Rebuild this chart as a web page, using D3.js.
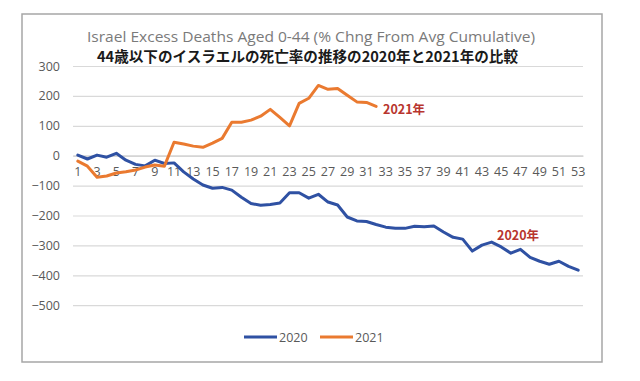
<!DOCTYPE html>
<html><head><meta charset="utf-8">
<script src="https://cdn.jsdelivr.net/npm/d3@7"></script>
<style>body{margin:0;background:#fff}svg{display:block}</style>
</head><body>
<script>
const categories = d3.range(1, 54);
const xTickLabels = d3.range(1, 54, 2);
const yTicks = [300, 200, 100, 0, -100, -200, -300, -400, -500];
const series2020 = [2,-11,2,-5,8,-15,-29,-34,-15,-26,-24,-54,-78,-98,-109,-106,-115,-139,-160,-166,-163,-158,-124,-124,-142,-129,-155,-165,-205,-218,-220,-230,-239,-243,-243,-236,-238,-235,-255,-273,-279,-319,-299,-289,-305,-326,-313,-340,-353,-363,-353,-370,-383];
const series2021 = [-18,-35,-72,-68,-58,-54,-48,-38,-31,-35,45,39,32,28,42,58,112,112,119,132,155,128,100,175,192,235,222,225,202,180,178,165];
const seriesNames = ["2020", "2021"];
const colors = ["#2f51a3", "#ea7a30"];
const title1 = "Israel Excess Deaths Aged 0-44 (% Chng From Avg Cumulative)";
const title2 = "44歳以下のイスラエルの死亡率の推移の2020年と2021年の比較";
const annot = ["2020年", "2021年"];

(function () {
const W = 640, H = 381;
const svg = d3.select("body").append("svg").attr("width", W).attr("height", H);
svg.append("rect").attr("width", W).attr("height", H).attr("fill", "#fff");
svg.append("rect").attr("x", 22).attr("y", 14).attr("width", 580).attr("height", 348)
  .attr("fill", "#fff").attr("stroke", "#a6a6a6").attr("stroke-width", 1.5);

const pL = 73, pR = 583, pT = 66, pB = 305.2;
const x = d3.scaleBand().domain(categories).range([pL, pR]).padding(0);
const xc = d => x(d) + x.bandwidth() / 2;
const y = d3.scaleLinear().domain([-500, 300]).range([pB, pT]);

const font = "'Open Sans', 'Noto Sans', sans-serif";

const grid = svg.append("g").attr("transform", `translate(${pL},0)`)
  .call(d3.axisLeft(y).tickValues(yTicks).tickSize(-(pR - pL)).tickFormat(""));
grid.select(".domain").remove();
grid.selectAll("line").attr("stroke", "#d9d9d9").attr("stroke-width", 1.2);

const ya = svg.append("g").attr("transform", `translate(${pL},0)`)
  .call(d3.axisLeft(y).tickValues(yTicks).tickSize(0).tickPadding(13).tickFormat(d3.format("d")));
ya.select(".domain").remove();
ya.selectAll("text").attr("fill", "#595959").style("font-family", font).style("font-size", "12.5px");

const xa = svg.append("g").attr("transform", `translate(0,${y(0)})`)
  .call(d3.axisBottom(x).tickValues(xTickLabels).tickSize(0).tickPadding(11));
xa.select(".domain").attr("stroke", "#d0d0d0").attr("stroke-width", 1.2);
xa.selectAll("text").attr("fill", "#595959").style("font-family", font).style("font-size", "12.5px");

const line = d3.line().x((d, i) => xc(categories[i])).y(d => y(d));
[series2020, series2021].forEach((s, k) => {
  svg.append("path").datum(s).attr("d", line).attr("fill", "none")
    .attr("stroke", colors[k]).attr("stroke-width", 3).attr("stroke-linejoin", "round").attr("stroke-linecap", "round");
});

const cjk = "'Noto Sans CJK JP', sans-serif";
svg.append("text").attr("x", 497).attr("y", 239.5).text(annot[0])
  .attr("fill", "#b8352e").style("font-family", cjk).style("font-weight", "bold").style("font-size", "12.5px");
svg.append("text").attr("x", 383).attr("y", 113.5).text(annot[1])
  .attr("fill", "#b8352e").style("font-family", cjk).style("font-weight", "bold").style("font-size", "12.5px");

svg.append("text").attr("x", 87).attr("y", 42).text(title1)
  .attr("fill", "#7a7a7a").style("font-family", font).style("font-size", "14px")
  .attr("textLength", 448).attr("lengthAdjust", "spacingAndGlyphs");
svg.append("text").attr("x", 97).attr("y", 61.5).text(title2)
  .attr("fill", "#1a1a1a").style("font-family", cjk).style("font-weight", "bold").style("font-size", "14.5px")
  .attr("textLength", 421).attr("lengthAdjust", "spacingAndGlyphs");

const legend = svg.append("g");
const lx = [244, 320];
seriesNames.forEach((n, k) => {
  legend.append("line").attr("x1", lx[k]).attr("x2", lx[k] + 33).attr("y1", 337).attr("y2", 337)
    .attr("stroke", colors[k]).attr("stroke-width", 3);
  legend.append("text").attr("x", lx[k] + 35).attr("y", 341.5).text(n)
    .attr("fill", "#595959").style("font-family", font).style("font-size", "12.5px");
});
})();
</script>
</body></html>
